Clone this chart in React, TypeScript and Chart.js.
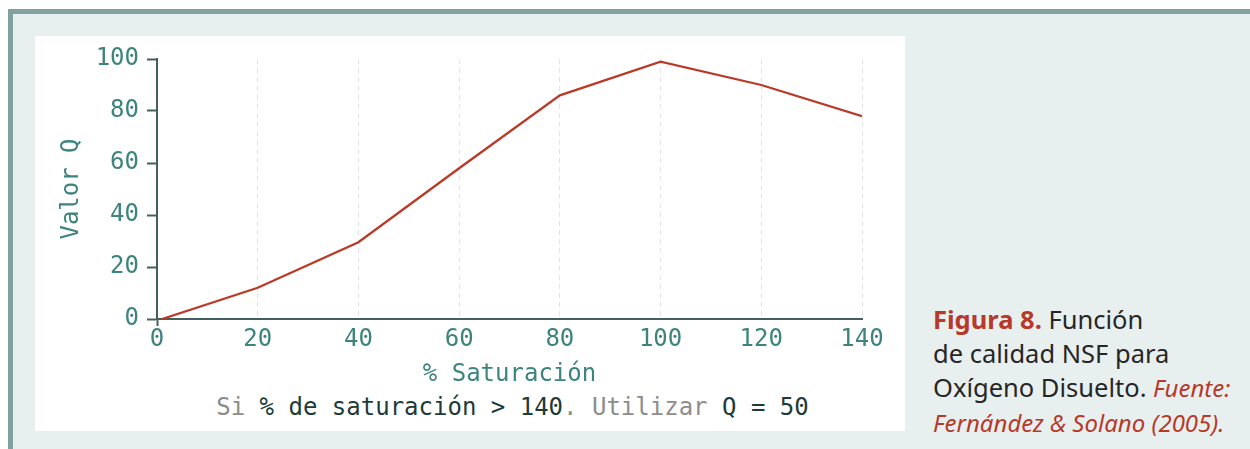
import React, { useEffect, useRef } from "react";
import { Chart, registerables } from "chart.js";

Chart.register(...registerables);

// ---- data ----
const saturation: number[] = [1, 20, 40, 60, 80, 100, 120, 140];
const qValues: number[] = [0, 12, 29.5, 58, 86, 99, 90, 78];
const xTickValues: number[] = [0, 20, 40, 60, 80, 100, 120, 140];
const yTickValues: number[] = [0, 20, 40, 60, 80, 100];
const xTitle = "% Saturación";
const yTitle = "Valor Q";

const MONO = "'DejaVu Sans Mono', monospace";
const TEAL = "#3d847e";
const AXIS = "#44605d";
const LINE = "#b83a27";
const RED = "#b8392a";
const DARK = "#1d3b38";
const GRAY = "#8d8d8d";

export default function App() {
  const ref = useRef<HTMLCanvasElement | null>(null);

  useEffect(() => {
    if (!ref.current) return;
    const chart = new Chart(ref.current, {
      type: "line",
      data: {
        datasets: [
          {
            data: saturation.map((x, i) => ({ x, y: qValues[i] })),
            borderColor: LINE,
            borderWidth: 2.3,
            pointRadius: 0,
            fill: false,
            tension: 0,
          },
        ],
      },
      options: {
        animation: false,
        responsive: false,
        devicePixelRatio: 1,
        layout: { padding: { left: 0, top: 23, right: 43, bottom: 0 } },
        plugins: { legend: { display: false }, tooltip: { enabled: false } },
        scales: {
          x: {
            type: "linear",
            min: 0,
            max: 140,
            afterBuildTicks: (s: any) => {
              s.ticks = xTickValues.map((v) => ({ value: v }));
            },
            afterFit: (s: any) => {
              s.height = 72;
            },
            grid: {
              color: (c: any) => (c.index === 0 ? "rgba(0,0,0,0)" : "#e4e4e4"),
              lineWidth: 1,
              tickLength: 7,
              tickColor: (c: any) => (c.index === 0 ? AXIS : "rgba(0,0,0,0)"),
              tickWidth: 2,
            },
            border: { display: true, color: AXIS, width: 2, dash: [5, 4] },
            ticks: {
              color: TEAL,
              font: { family: MONO, size: 24 },
              padding: -1,
              maxRotation: 0,
              autoSkip: false,
            },
            title: {
              display: true,
              text: xTitle,
              color: TEAL,
              font: { family: MONO, size: 24 },
              padding: { top: 0, bottom: 2 },
            },
          },
          y: {
            type: "linear",
            min: 0,
            max: 100,
            afterBuildTicks: (s: any) => {
              s.ticks = yTickValues.map((v) => ({ value: v }));
            },
            afterFit: (s: any) => {
              s.width = 122;
            },
            grid: {
              drawOnChartArea: false,
              tickLength: 10,
              tickColor: AXIS,
              tickWidth: 2,
            },
            border: { display: true, color: AXIS, width: 2 },
            ticks: {
              color: TEAL,
              font: { family: MONO, size: 24 },
              padding: 8,
            },
            title: {
              display: true,
              text: yTitle,
              color: TEAL,
              font: { family: MONO, size: 24 },
              padding: { top: 22, bottom: 0 },
            },
          },
        },
      },
    });
    return () => chart.destroy();
  }, []);

  const italic = { color: RED, fontStyle: "italic" as const, fontSize: 24 };

  return (
    <div>
      <div
        style={{
          position: "absolute",
          left: 8,
          top: 9,
          right: 0,
          bottom: 0,
          background: "#e7f0ef",
          borderLeft: "5px solid #82a29f",
          borderTop: "5px solid #82a29f",
          boxSizing: "border-box",
        }}
      />
      <div
        style={{
          position: "absolute",
          left: 35,
          top: 36,
          width: 870,
          height: 395,
          background: "#ffffff",
        }}
      />
      <canvas
        ref={ref}
        width={870}
        height={355}
        style={{ position: "absolute", left: 35, top: 36, width: 870, height: 355 }}
      />
      <div
        style={{
          position: "absolute",
          left: 160,
          top: 395,
          width: 705,
          textAlign: "center",
          fontFamily: MONO,
          fontSize: 24,
          lineHeight: "24px",
          whiteSpace: "pre",
          color: DARK,
        }}
      >
        <span style={{ color: GRAY }}>Si</span>
        {" % de saturación > 140"}
        <span style={{ color: GRAY }}>. Utilizar</span>
        {" Q = 50"}
      </div>
      <div
        style={{
          position: "absolute",
          left: 933,
          top: 302,
          fontFamily: "'Noto Sans', sans-serif",
          fontSize: 25.5,
          lineHeight: "34px",
          color: "#262626",
          whiteSpace: "nowrap",
        }}
      >
        <span style={{ color: RED, fontWeight: 700 }}>Figura 8.</span> Función
        <br />
        de calidad NSF para
        <br />
        Oxígeno Disuelto. <span style={italic}>Fuente:</span>
        <br />
        <span style={italic}>Fernández &amp; Solano (2005).</span>
      </div>
    </div>
  );
}
